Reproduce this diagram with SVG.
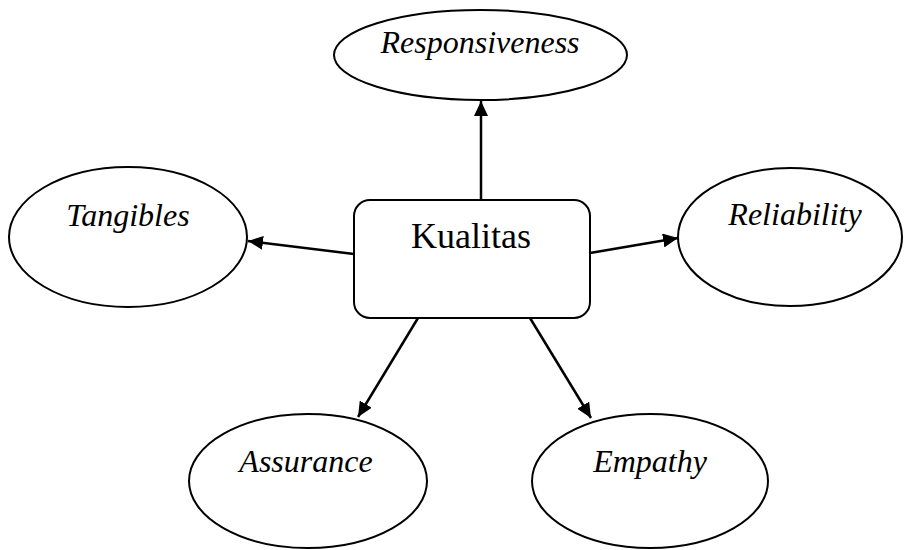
<svg xmlns="http://www.w3.org/2000/svg" width="904" height="550" viewBox="0 0 904 550">
<style>
.node{fill:#fff;stroke:#000;stroke-width:2}
.lbl{font-family:"Liberation Serif","Times New Roman",serif;font-style:italic;font-size:32px;fill:#000;text-anchor:middle}
.main{font-family:"Liberation Serif","Times New Roman",serif;font-size:36px;fill:#000;text-anchor:middle}
.edge{stroke:#000;stroke-width:2.5;fill:none;marker-end:url(#ah)}
</style>
<defs>
<marker id="ah" viewBox="0 0 12 12" refX="12" refY="6" markerWidth="15" markerHeight="14" markerUnits="userSpaceOnUse" orient="auto" preserveAspectRatio="none">
<path d="M0,0 L12,6 L0,12 z" fill="#000"/>
</marker>
</defs>
<rect width="904" height="550" fill="#fff"/>
<g id="connectors">
<line class="edge" x1="481" y1="200" x2="481" y2="101"/>
<line class="edge" x1="354" y1="254" x2="248" y2="241"/>
<line class="edge" x1="590" y1="253" x2="678" y2="238"/>
<line class="edge" x1="418" y1="318" x2="358" y2="417"/>
<line class="edge" x1="530" y1="318" x2="591" y2="418"/>
</g>
<g id="responsiveness">
<ellipse class="node" cx="480.5" cy="55" rx="146.5" ry="45"/>
<text class="lbl" x="480" y="53">Responsiveness</text>
</g>
<g id="tangibles">
<ellipse class="node" cx="128" cy="237" rx="119" ry="70"/>
<text class="lbl" x="128" y="226">Tangibles</text>
</g>
<g id="reliability">
<ellipse class="node" cx="790" cy="237" rx="112" ry="69"/>
<text class="lbl" x="795" y="225">Reliability</text>
</g>
<g id="assurance">
<ellipse class="node" cx="308" cy="481" rx="119" ry="67"/>
<text class="lbl" x="306" y="472">Assurance</text>
</g>
<g id="empathy">
<ellipse class="node" cx="650" cy="481" rx="118" ry="67"/>
<text class="lbl" x="650" y="472">Empathy</text>
</g>
<g id="kualitas">
<rect class="node" x="354" y="200" width="236" height="118" rx="16"/>
<text class="main" x="471" y="248">Kualitas</text>
</g>
</svg>
